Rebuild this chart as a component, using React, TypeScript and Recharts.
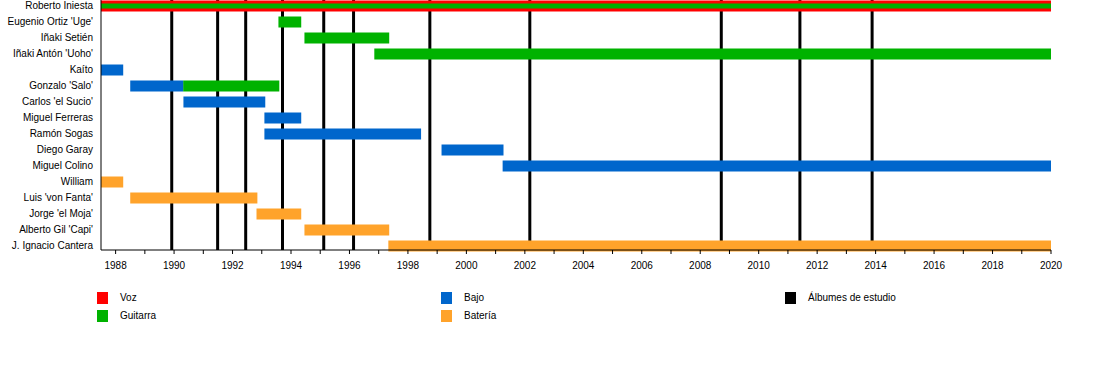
import React from "react";
import {
  Bar,
  BarChart,
  ReferenceLine,
  XAxis,
  YAxis,
} from "recharts";

const members = [
  "Roberto Iniesta",
  "Eugenio Ortiz 'Uge'",
  "Iñaki Setién",
  "Iñaki Antón 'Uoho'",
  "Kaíto",
  "Gonzalo 'Salo'",
  "Carlos 'el Sucio'",
  "Miguel Ferreras",
  "Ramón Sogas",
  "Diego Garay",
  "Miguel Colino",
  "William",
  "Luis 'von Fanta'",
  "Jorge 'el Moja'",
  "Alberto Gil 'Capi'",
  "J. Ignacio Cantera",
];

type Span = [number, number] | null;

// one entry per member, [from, to] in decimal years
const voz: Span[] = [
  [1987.5, 2020], null, null, null, null, null, null, null,
  null, null, null, null, null, null, null, null,
];
const guitarra: Span[] = [
  [1987.5, 2020], [1993.57, 1994.35], [1994.46, 1997.36], [1996.85, 2020],
  null, [1990.31, 1993.6], null, null,
  null, null, null, null, null, null, null, null,
];
const bajo: Span[] = [
  null, null, null, null,
  [1987.5, 1988.26], [1988.5, 1990.31], [1990.32, 1993.12], [1993.09, 1994.35],
  [1993.09, 1998.45], [1999.15, 2001.27], [2001.24, 2020], null,
  null, null, null, null,
];
const bateria: Span[] = [
  null, null, null, null, null, null, null, null,
  null, null, null, [1987.5, 1988.26],
  [1988.5, 1992.85], [1992.82, 1994.35], [1994.46, 1997.36], [1997.33, 2020],
];

const albumYears = [
  1989.92, 1991.49, 1992.45, 1993.71, 1995.12, 1996.14, 1998.75, 2002.17,
  2008.72, 2011.41, 2013.88,
];

const yearTicks = [
  1988, 1989, 1990, 1991, 1992, 1993, 1994, 1995, 1996, 1997, 1998, 1999,
  2000, 2001, 2002, 2003, 2004, 2005, 2006, 2007, 2008, 2009, 2010, 2011,
  2012, 2013, 2014, 2015, 2016, 2017, 2018, 2019, 2020,
];

const COLORS = {
  voz: "#ff0000",
  guitarra: "#00b200",
  bajo: "#0066cc",
  bateria: "#ffa32b",
  albumes: "#000000",
};

const legendItems = [
  { label: "Voz", color: COLORS.voz, left: 97, top: 292 },
  { label: "Guitarra", color: COLORS.guitarra, left: 97, top: 310 },
  { label: "Bajo", color: COLORS.bajo, left: 441, top: 292 },
  { label: "Batería", color: COLORS.bateria, left: 441, top: 310 },
  { label: "Álbumes de estudio", color: COLORS.albumes, left: 785, top: 292 },
];

const rows = members.map((name, i) => ({
  name,
  voz: voz[i],
  guitarra: guitarra[i],
  bajo: bajo[i],
  bateria: bateria[i],
}));

const FONT = "'Liberation Sans', Arial, sans-serif";

// guitar stripe inside the vocal bar is drawn thinner
function GuitarShape(props: any) {
  const { x, y, width, height, payload, fill } = props;
  if (width == null || !isFinite(width) || width <= 0) return null;
  if (payload && payload.voz) {
    const h = 5;
    return <rect x={x} y={y + (height - h) / 2} width={width} height={h} fill={fill} />;
  }
  return <rect x={x} y={y} width={width} height={height} fill={fill} />;
}

function NameTick(props: any) {
  const { x, y, payload } = props;
  return (
    <text x={x} y={y} dy={3.5} textAnchor="end" fontSize={10} fill="#000" fontFamily={FONT}>
      {payload.value}
    </text>
  );
}

export default function App() {
  return (
    <div style={{ position: "absolute", left: 0, top: 0, width: 1100, height: 370, fontFamily: FONT }}>
      <BarChart
        width={1100}
        height={280}
        data={rows}
        layout="vertical"
        margin={{ top: 0, right: 49, bottom: 0, left: 0 }}
        barSize={11}
        barGap={-11}
      >
        <XAxis
          type="number"
          domain={[1987.5, 2020]}
          allowDataOverflow
          ticks={yearTicks}
          interval={0}
          height={30}
          tickSize={4}
          tickMargin={8}
          axisLine={{ stroke: "#000" }}
          tickLine={{ stroke: "#000" }}
          tick={{ fontSize: 10, fill: "#000", fontFamily: FONT }}
          tickFormatter={(v: number) => (v % 2 === 0 ? String(v) : "")}
        />
        <YAxis
          type="category"
          dataKey="name"
          width={101}
          interval={0}
          padding={{ top: -2.5, bottom: -3.5 }}
          tickLine={false}
          tickSize={0}
          tickMargin={8}
          axisLine={{ stroke: "#000" }}
          tick={<NameTick />}
        />
        {albumYears.map((yr) => (
          <ReferenceLine
            key={yr}
            x={yr}
            stroke={COLORS.albumes}
            strokeWidth={3}
            zIndex={250}
          />
        ))}
        <Bar dataKey="voz" fill={COLORS.voz} isAnimationActive={false} />
        <Bar dataKey="guitarra" fill={COLORS.guitarra} shape={GuitarShape} isAnimationActive={false} />
        <Bar dataKey="bajo" fill={COLORS.bajo} isAnimationActive={false} />
        <Bar dataKey="bateria" fill={COLORS.bateria} isAnimationActive={false} />
      </BarChart>
      {legendItems.map((it) => (
        <div
          key={it.label}
          style={{
            position: "absolute",
            left: it.left,
            top: it.top,
            display: "flex",
            alignItems: "center",
            fontSize: 10,
            color: "#000",
            lineHeight: "12px",
          }}
        >
          <span style={{ display: "inline-block", width: 11, height: 12, background: it.color }} />
          <span style={{ marginLeft: 12 }}>{it.label}</span>
        </div>
      ))}
    </div>
  );
}
